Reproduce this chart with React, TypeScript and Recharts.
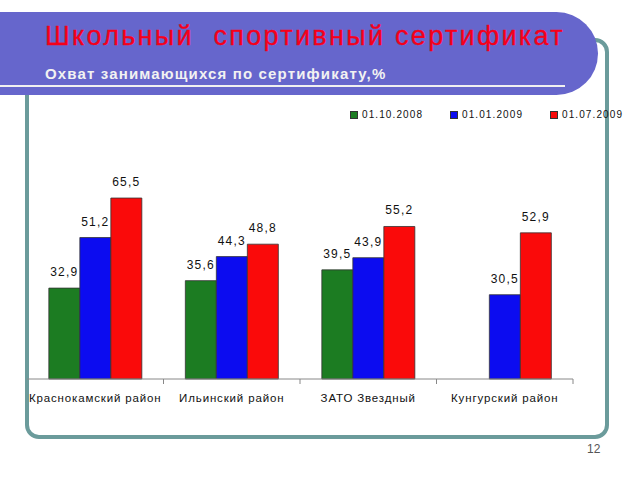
import { BarChart, Bar, XAxis, YAxis, LabelList, Legend } from 'recharts';

const categories = ['Краснокамский район', 'Ильинский район', 'ЗАТО Звездный', 'Кунгурский район'];
const oct2008 = [32.9, 35.6, 39.5, null];
const jan2009 = [51.2, 44.3, 43.9, 30.5];
const jul2009 = [65.5, 48.8, 55.2, 52.9];
const seriesNames = ['01.10.2008', '01.01.2009', '01.07.2009'];

const GREEN = '#1c7c22';
const BLUE = '#0c0cf0';
const RED = '#fa0a0a';
const FRAME = '#6b9b9b';
const FONT = "'Liberation Sans', Arial, sans-serif";

const W = 640;
const H = 480;
// bottom margin + 30px x-axis height puts the axis line at y=379
const margin = { top: 185.6, right: 67, bottom: 71, left: 27 };
const band = (W - margin.left - margin.right) / categories.length;

const data = categories.map((name, i) => ({
  name,
  a: oct2008[i],
  b: jan2009[i],
  c: jul2009[i],
}));

const fmt = (v: any) => (v == null ? '' : String(v).replace('.', ','));

function CategoryTick({ x, y, payload }: any) {
  return (
    <g>
      <line x1={x + band / 2} y1={y} x2={x + band / 2} y2={y + 5} stroke="#888" />
      <text
        x={x}
        y={y + 23}
        textAnchor="middle"
        fontSize={11.5}
        letterSpacing={0.85}
        fontFamily={FONT}
        fill="#111"
      >
        {payload.value}
      </text>
    </g>
  );
}

function LegendBox({ payload }: any) {
  return (
    <div style={{ display: 'flex', fontFamily: FONT, fontSize: 10, letterSpacing: 1.1, color: '#111' }}>
      {(payload || []).map((p: any) => (
        <div key={p.value} style={{ width: 100.5, display: 'flex', alignItems: 'center' }}>
          <span
            style={{
              width: 6,
              height: 6,
              background: p.color,
              border: '0.5px solid #333',
              marginRight: 4,
              display: 'inline-block',
            }}
          />
          {p.value}
        </div>
      ))}
    </div>
  );
}

const labelStyle = { fontSize: 12, fontFamily: FONT, fill: '#111', letterSpacing: 1.2 };

export default function App() {
  return (
    <div
      style={{
        position: 'absolute',
        left: 0,
        top: 0,
        width: W,
        height: H,
        background: '#fff',
        overflow: 'hidden',
        fontFamily: FONT,
      }}
    >
      {/* frame */}
      <div
        style={{
          position: 'absolute',
          left: 25,
          top: 38,
          width: 576,
          height: 393,
          border: `4px solid ${FRAME}`,
          borderRadius: 14,
        }}
      />

      <div style={{ position: 'absolute', left: 0, top: 0 }}>
        <BarChart width={W} height={H} data={data} margin={margin} barCategoryGap="16%" barGap={0}>
          <XAxis
            dataKey="name"
            height={30}
            axisLine={{ stroke: '#888' }}
            tickLine={false}
            tickSize={0}
            tickMargin={0}
            interval={0}
            tick={<CategoryTick />}
          />
          <YAxis hide domain={[0, 70]} />
          <Legend
            layout="horizontal"
            verticalAlign="middle"
            align="center"
            itemSorter="dataKey"
            content={<LegendBox />}
            wrapperStyle={{ top: 109, left: 350, width: 300 }}
          />
          <Bar dataKey="a" name={seriesNames[0]} fill={GREEN} stroke="#333" strokeWidth={0.8} isAnimationActive={false}>
            <LabelList dataKey="a" position="top" offset={12} formatter={fmt} style={labelStyle} />
          </Bar>
          <Bar dataKey="b" name={seriesNames[1]} fill={BLUE} stroke="#333" strokeWidth={0.8} isAnimationActive={false}>
            <LabelList dataKey="b" position="top" offset={12} formatter={fmt} style={labelStyle} />
          </Bar>
          <Bar dataKey="c" name={seriesNames[2]} fill={RED} stroke="#333" strokeWidth={0.8} isAnimationActive={false}>
            <LabelList dataKey="c" position="top" offset={12} formatter={fmt} style={labelStyle} />
          </Bar>
        </BarChart>
      </div>

      {/* title banner */}
      <div
        style={{
          position: 'absolute',
          left: 0,
          top: 12,
          width: 598,
          height: 83,
          background: '#6666cc',
          borderRadius: '0 42px 42px 0',
        }}
      >
        <div
          style={{
            position: 'absolute',
            left: 45,
            top: 9,
            fontSize: 27,
            color: '#f5001a',
            letterSpacing: 2.3,
            whiteSpace: 'pre',
            WebkitTextStroke: '0.3px #f5001a',
          }}
        >
          {'Школьный  спортивный сертификат'}
        </div>
        <div
          style={{
            position: 'absolute',
            left: 45,
            top: 53,
            fontSize: 15,
            fontWeight: 'bold',
            color: '#f2f2f2',
            letterSpacing: 1.15,
            whiteSpace: 'pre',
          }}
        >
          Охват занимающихся по сертификату,%
        </div>
        <div
          style={{ position: 'absolute', left: 0, top: 73, width: 565, height: 2, background: '#f0f0f0' }}
        />
      </div>

      <div style={{ position: 'absolute', left: 587, top: 442, fontSize: 12, color: '#555' }}>12</div>
    </div>
  );
}
